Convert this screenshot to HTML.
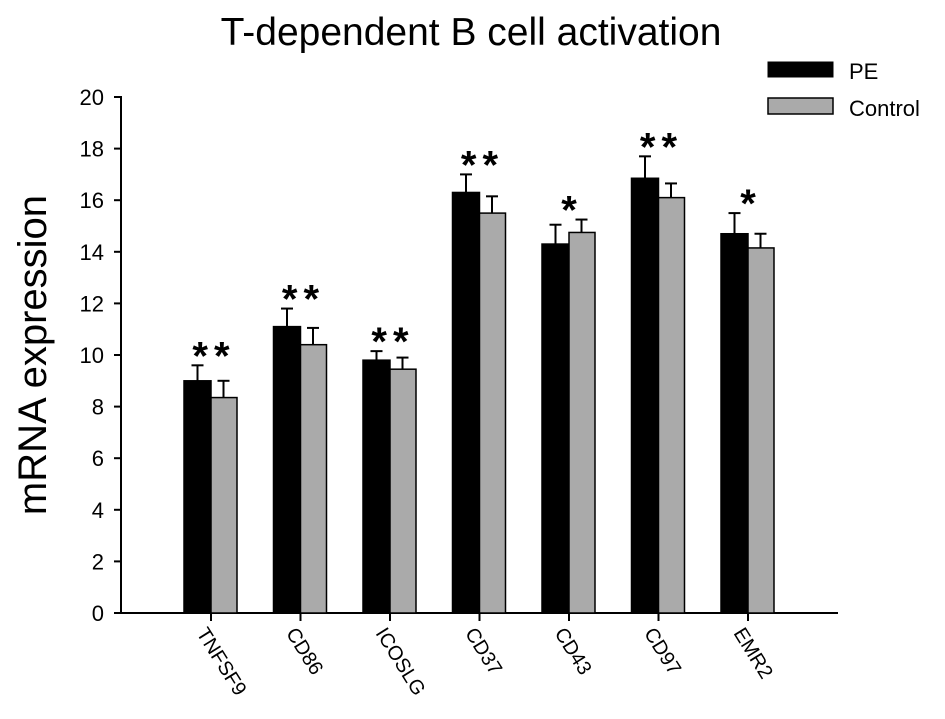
<!DOCTYPE html>
<html><head><meta charset="utf-8"><style>
body{margin:0;background:#fff}
svg text{font-family:"Liberation Sans",Arial,sans-serif}
</style></head><body>
<svg id="c" width="945" height="714" xmlns="http://www.w3.org/2000/svg">
<text x="471" y="45" font-size="39" text-anchor="middle">T-dependent B cell activation</text>
<text transform="translate(46,355) rotate(-90)" font-size="40" text-anchor="middle">mRNA expression</text>
<g id="legend">
<rect x="768" y="62" width="65" height="15" fill="#000" stroke="#000"/>
<text x="849" y="79" font-size="22">PE</text>
<rect x="768" y="98" width="65" height="16" fill="#aaa" stroke="#000" stroke-width="1.5"/>
<text x="849" y="116" font-size="22">Control</text>
</g>
<g id="plot"></g>
</svg>
<script>
const categories=["TNFSF9","CD86","ICOSLG","CD37","CD43","CD97","EMR2"];
const peValues=[9.0,11.1,9.8,16.3,14.3,16.85,14.7];
const ctrlValues=[8.35,10.4,9.45,15.5,14.75,16.1,14.15];
const peErrors=[0.6,0.7,0.35,0.7,0.75,0.85,0.8];
const ctrlErrors=[0.65,0.65,0.45,0.65,0.5,0.55,0.55];
const stars=["**","**","**","**","*","**","*"];
const yTicks=[0,2,4,6,8,10,12,14,16,18,20];

const NS="http://www.w3.org/2000/svg";
const g=document.getElementById('plot');
const y0=613,y1=97,xL=121,xR=838;
const yScale=v=>y0-(v/20)*(y0-y1);
const xCenter=i=>211+i*89.5;
const bw=27;
function el(t,a){const e=document.createElementNS(NS,t);for(const k in a)e.setAttribute(k,a[k]);g.appendChild(e);return e;}

let ax=el('line',{x1:xL,y1:y1-1,x2:xL,y2:y0,stroke:'#000','stroke-width':2});


let bx=el('line',{x1:xL-1,y1:y0,x2:xR,y2:y0,stroke:'#000','stroke-width':2});



yTicks.forEach(v=>{
  const y=yScale(v);
  let t=el('line',{x1:xL-7,y1:y,x2:xL,y2:y,stroke:'#000','stroke-width':2});
  
  
  let l=el('text',{x:xL-17,y:y+8,'font-size':22,'text-anchor':'end'});
  l.textContent=v;
  
  
});

categories.forEach((c,i)=>{
  const cx=xCenter(i);
  let tk=el('line',{x1:cx,y1:y0,x2:cx,y2:y0+8,stroke:'#000','stroke-width':2});
  
  
  [[peValues[i],peErrors[i],cx-bw/2],[ctrlValues[i],ctrlErrors[i],cx+bw/2-1]].forEach(([v,e,ex])=>{
    let l1=el('line',{x1:ex,y1:yScale(v),x2:ex,y2:yScale(v+e),stroke:'#000','stroke-width':2});
    
    
    let l2=el('line',{x1:ex-6,y1:yScale(v+e),x2:ex+6,y2:yScale(v+e),stroke:'#000','stroke-width':2});
    
    
  });
  let b1=el('rect',{x:cx-bw,y:yScale(peValues[i]),width:bw,height:y0-yScale(peValues[i]),fill:'#000',stroke:'#000','stroke-width':1.5});
  
  
  let b2=el('rect',{x:cx,y:yScale(ctrlValues[i]),width:bw-1,height:y0-yScale(ctrlValues[i]),fill:'#aaa',stroke:'#000','stroke-width':1.5});
  
  
  const top=Math.max(peValues[i]+peErrors[i],ctrlValues[i]+ctrlErrors[i]);
  let s=el('text',{x:cx+3,y:yScale(top)+4,'font-size':40,'font-weight':'bold','text-anchor':'middle','letter-spacing':'6'});
  s.textContent=stars[i];
  
  
  let lb=el('text',{transform:`translate(${cx-15},${y0+20}) rotate(58)`,'font-size':20});
  lb.textContent=c;
  
  
});
</script>
</body></html>
